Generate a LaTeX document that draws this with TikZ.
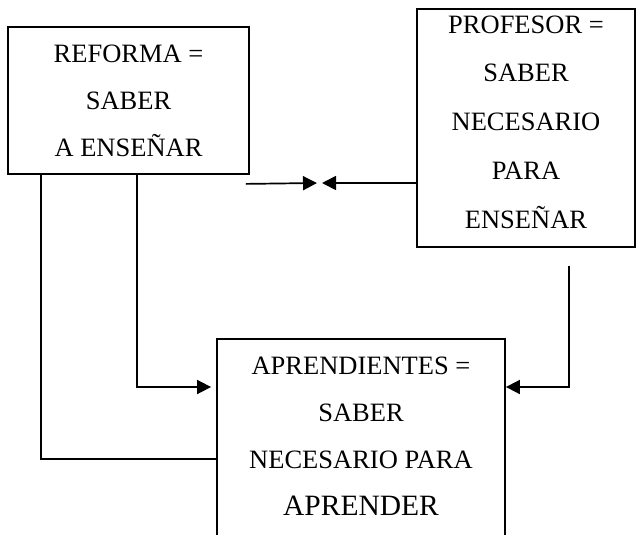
\documentclass[tikz,border=0pt]{standalone}
\usepackage{fontspec}
\setmainfont{Liberation Serif}
\usetikzlibrary{arrows.meta}

\begin{document}
\begin{tikzpicture}[
	x=1pt, y=-1pt,
	box/.style = {draw, line width=1.8pt, align=center, inner sep=0pt,
	              font=\fontsize{26.5}{47}\selectfont},
	conn/.style = {line width=1.7pt},
	arr/.style  = {conn, -{Triangle[length=14pt, width=14pt]}}
     ]
	\useasboundingbox (0,0) rectangle (637,535);
%
		\node (reforma) [box, minimum width=241pt, minimum height=147pt]
			at (128.5,100.5) {REFORMA =\\ SABER\\ A ENSEÑAR};
		\node (profesor) [box, minimum width=218pt, minimum height=238pt,
			font=\fontsize{26.5}{48.75}\selectfont, text depth=12.5pt]
			at (526,128) {PROFESOR =\\ SABER\\ NECESARIO\\ PARA\\ ENSEÑAR};
		\node (aprend) [box, minimum width=288pt, minimum height=221pt, text depth=27.5pt]
			at (361,449.5) {APRENDIENTES =\\ SABER\\ NECESARIO PARA\\
			{\fontsize{29.5}{47}\selectfont APRENDER}};
%
		\coordinate (m1) at (317,183);
		\coordinate (m2) at (322,183);
		\draw[arr] ([shift={(-4pt,-9pt)}]reforma.south east) -- (m1);
		\draw[arr] (profesor.west |- m2) -- (m2);
%
		\draw[conn] ([xshift=-87.5pt]reforma.south) |- ([yshift=-9.5pt]aprend.west);
		\draw[arr] ([xshift=8.5pt]reforma.south) |- ([shift={(-5pt,62.5pt)}]aprend.west);
		\draw[arr] ([shift={(43pt,-18pt)}]profesor.south) |- ([yshift=62.5pt]aprend.east);
\end{tikzpicture}
\end{document}
